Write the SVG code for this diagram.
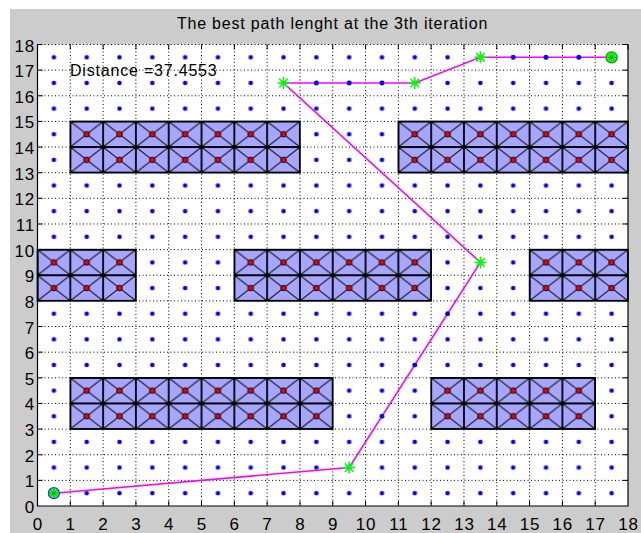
<svg xmlns="http://www.w3.org/2000/svg" xmlns:xlink="http://www.w3.org/1999/xlink" width="641" height="533" viewBox="0 0 641 533">
<style>
.grid{stroke:#000;stroke-width:1;stroke-dasharray:1 2.5;fill:none}
.axis{stroke:#000;stroke-width:1.2;fill:none}
.tick{stroke:#000;stroke-width:1}
.lbl{font-family:"Liberation Sans",Arial,sans-serif;font-size:17px;letter-spacing:0.8px;fill:#000}
.title{font-family:"Liberation Sans",Arial,sans-serif;font-size:16px;letter-spacing:0.8px;fill:#000}
.obs{fill:url(#cell);stroke:#000;stroke-width:1.6}
.path{stroke:#ff00ff;stroke-width:1.6;fill:none}
.bd{fill:#0000ff}
</style>
<defs>
<pattern id="dots" patternUnits="userSpaceOnUse" x="37.5" y="44.5" width="32.806" height="25.639">
<circle cx="16.403" cy="12.82" r="2.3" fill="#0000ff"/>
</pattern>
<pattern id="cell" patternUnits="userSpaceOnUse" x="37.5" y="44.5" width="32.806" height="25.639">
<rect width="32.806" height="25.639" fill="#a6a6ff"/>
<path d="M0,0L32.806,25.639M32.806,0L0,25.639" stroke="#111" stroke-width="1"/>
<path d="M0,0H32.806M0,25.639H32.806M0,0V25.639M32.806,0V25.639" stroke="#000" stroke-width="1.8"/>
<circle cx="0" cy="0" r="2.3" fill="#000"/>
<circle cx="32.806" cy="0" r="2.3" fill="#000"/>
<circle cx="0" cy="25.639" r="2.3" fill="#000"/>
<circle cx="32.806" cy="25.639" r="2.3" fill="#000"/>
<circle cx="16.403" cy="12.82" r="2.8" fill="#ee0000" stroke="#000" stroke-width="0.9"/>
</pattern>
<g id="star">
<path d="M-6,0H6M0,-6V6M-4.3,-4.3L4.3,4.3M-4.3,4.3L4.3,-4.3" stroke="#00ff00" stroke-width="1.5"/>
</g>
<g id="star2">
<path d="M-4,0H4M0,-4V4M-2.9,-2.9L2.9,2.9M-2.9,2.9L2.9,-2.9" stroke="#00b000" stroke-width="1"/>
</g>
</defs>
<rect x="0" y="0" width="641" height="533" fill="#ffffff"/>
<rect x="10" y="9" width="631" height="524" fill="#cccccc"/>
<rect x="37.5" y="44.5" width="590.5" height="461.5" fill="#ffffff"/>
<rect x="37.5" y="44.5" width="590.5" height="461.5" fill="url(#dots)"/>
<g id="grid">
<path class="grid" d="M70.31,44.5V506M103.11,44.5V506M135.92,44.5V506M168.72,44.5V506M201.53,44.5V506M234.34,44.5V506M267.14,44.5V506M299.95,44.5V506M332.75,44.5V506M365.56,44.5V506M398.37,44.5V506M431.17,44.5V506M463.98,44.5V506M496.78,44.5V506M529.59,44.5V506M562.4,44.5V506M595.2,44.5V506"/>
<path class="grid" d="M37.5,480.36H628M37.5,454.72H628M37.5,429.08H628M37.5,403.44H628M37.5,377.81H628M37.5,352.17H628M37.5,326.53H628M37.5,300.89H628M37.5,275.25H628M37.5,249.61H628M37.5,223.97H628M37.5,198.33H628M37.5,172.69H628M37.5,147.05H628M37.5,121.42H628M37.5,95.78H628M37.5,70.14H628M37.5,44.5H628"/>
</g>
<g id="obstacles">
<rect id="obs1" class="obs" x="70.31" y="121.42" width="229.64" height="51.28"/>
<rect id="obs2" class="obs" x="398.37" y="121.42" width="229.63" height="51.28"/>
<rect id="obs3" class="obs" x="37.5" y="249.61" width="98.42" height="51.28"/>
<rect id="obs4" class="obs" x="234.34" y="249.61" width="196.83" height="51.28"/>
<rect id="obs5" class="obs" x="529.59" y="249.61" width="98.41" height="51.28"/>
<rect id="obs6" class="obs" x="70.31" y="377.81" width="262.44" height="51.27"/>
<rect id="obs7" class="obs" x="431.17" y="377.81" width="164.03" height="51.27"/>
</g>
<g id="axes">
<path class="axis" d="M37.5,44.5V506H628V44.5"/>
<path class="tick" d="M37.5,480.36h5M37.5,454.72h5M37.5,429.08h5M37.5,403.44h5M37.5,377.81h5M37.5,352.17h5M37.5,326.53h5M37.5,300.89h5M37.5,275.25h5M37.5,249.61h5M37.5,223.97h5M37.5,198.33h5M37.5,172.69h5M37.5,147.05h5M37.5,121.42h5M37.5,95.78h5M37.5,70.14h5M37.5,44.5h5
M628,480.36h-5M628,454.72h-5M628,429.08h-5M628,403.44h-5M628,377.81h-5M628,352.17h-5M628,326.53h-5M628,300.89h-5M628,275.25h-5M628,249.61h-5M628,223.97h-5M628,198.33h-5M628,172.69h-5M628,147.05h-5M628,121.42h-5M628,95.78h-5M628,70.14h-5M628,44.5h-5
M70.31,506v-5M103.11,506v-5M135.92,506v-5M168.72,506v-5M201.53,506v-5M234.34,506v-5M267.14,506v-5M299.95,506v-5M332.75,506v-5M365.56,506v-5M398.37,506v-5M431.17,506v-5M463.98,506v-5M496.78,506v-5M529.59,506v-5M562.4,506v-5M595.2,506v-5
M37.5,44.5v5M70.31,44.5v5M103.11,44.5v5M135.92,44.5v5M168.72,44.5v5M201.53,44.5v5M234.34,44.5v5M267.14,44.5v5M299.95,44.5v5M332.75,44.5v5M365.56,44.5v5M398.37,44.5v5M431.17,44.5v5M463.98,44.5v5M496.78,44.5v5M529.59,44.5v5M562.4,44.5v5M595.2,44.5v5M628,44.5v5"/>
</g>
<g id="xlabels" class="lbl" text-anchor="middle">
<text x="38" y="530">0</text><text x="70.7" y="530">1</text><text x="103.5" y="530">2</text><text x="136.3" y="530">3</text><text x="169.1" y="530">4</text><text x="201.9" y="530">5</text><text x="234.7" y="530">6</text><text x="267.5" y="530">7</text><text x="300.3" y="530">8</text><text x="333.1" y="530">9</text><text x="366" y="530">10</text><text x="398.8" y="530">11</text><text x="431.6" y="530">12</text><text x="464.4" y="530">13</text><text x="497.2" y="530">14</text><text x="530" y="530">15</text><text x="562.8" y="530">16</text><text x="595.6" y="530">17</text><text x="628.4" y="530">18</text>
</g>
<g id="ylabels" class="lbl" text-anchor="end">
<text x="35" y="513">0</text><text x="35" y="487.4">1</text><text x="35" y="461.7">2</text><text x="35" y="436.1">3</text><text x="35" y="410.4">4</text><text x="35" y="384.8">5</text><text x="35" y="359.2">6</text><text x="35" y="333.5">7</text><text x="35" y="307.9">8</text><text x="35" y="282.3">9</text><text x="35" y="256.6">10</text><text x="35" y="231">11</text><text x="35" y="205.3">12</text><text x="35" y="179.7">13</text><text x="35" y="154.1">14</text><text x="35" y="128.4">15</text><text x="35" y="102.8">16</text><text x="35" y="77.1">17</text><text x="35" y="51.5">18</text>
</g>
<text class="title" x="332.5" y="29" text-anchor="middle">The best path lenght at the 3th iteration</text>
<g id="connectors">
<polyline class="path" points="53.9,493.2 349.2,467.5 480.4,262.4 283.5,83 414.8,83 480.4,57.3 611.6,57.3"/>
</g>
<g id="pathdots">
<circle class="bd" cx="316.4" cy="83" r="2.4"/><circle class="bd" cx="349.2" cy="83" r="2.4"/><circle class="bd" cx="382" cy="83" r="2.4"/>
<circle class="bd" cx="513.2" cy="57.3" r="2.4"/><circle class="bd" cx="546" cy="57.3" r="2.4"/><circle class="bd" cx="578.8" cy="57.3" r="2.4"/>
<circle class="bd" cx="382" cy="416.3" r="2.2"/><circle class="bd" cx="414.8" cy="365" r="2.2"/><circle class="bd" cx="447.6" cy="313.7" r="2.2"/>
</g>
<g id="n_start"><circle cx="53.9" cy="493.2" r="5.5" fill="#22ff22" stroke="#3333ff" stroke-width="1.3"/><use href="#star2" x="53.9" y="493.2"/></g>
<g id="n1"><use href="#star" x="349.2" y="467.5"/></g>
<g id="n2"><use href="#star" x="480.4" y="262.4"/></g>
<g id="n3"><use href="#star" x="283.5" y="83"/></g>
<g id="n4"><use href="#star" x="414.8" y="83"/></g>
<g id="n5"><use href="#star" x="480.4" y="57.3"/></g>
<g id="n_end"><circle cx="611.6" cy="57.3" r="5.5" fill="#22ff22" stroke="#00a000" stroke-width="1.3"/><use href="#star2" x="611.6" y="57.3"/></g>
<text class="title" x="70" y="76">Distance =37.4553</text>
</svg>
